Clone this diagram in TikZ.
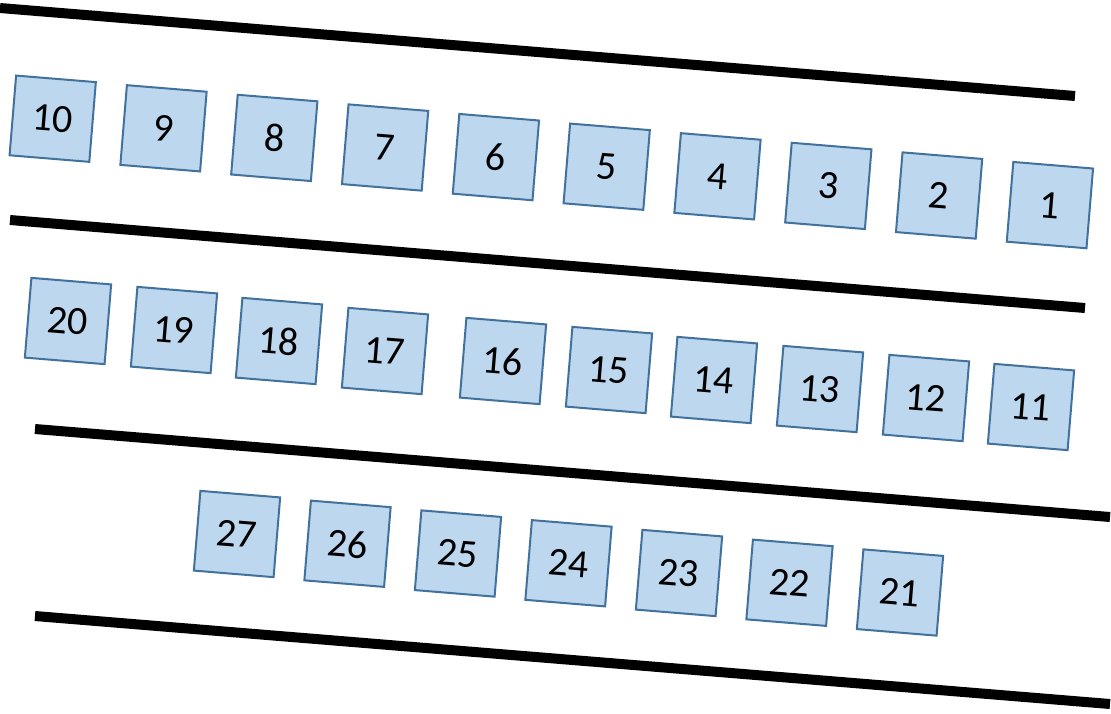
\documentclass[tikz,border=0pt]{standalone}
\usepackage{fontspec}
\setmainfont{Carlito}
\definecolor{seatfill}{HTML}{BDD7EE}
\definecolor{seatdraw}{HTML}{41719C}
\tikzset{
  seat/.style={draw=seatdraw, fill=seatfill, line width=2pt, minimum size=80pt,
    inner sep=0pt, rotate=-4.7, font=\fontsize{40}{42}\selectfont},
  rail/.style={line width=10pt, black}
}
\begin{document}
\begin{tikzpicture}[x=1pt, y=-1pt]

    \useasboundingbox (0,0) rectangle (1111,713);

    % rails between the rows
    \coordinate (r1a) at (0,8);     \coordinate (r1b) at (1075,96);
    \coordinate (r2a) at (10,220);  \coordinate (r2b) at (1085,308);
    \coordinate (r3a) at (35,429);  \coordinate (r3b) at (1110,517);
    \coordinate (r4a) at (35,616);  \coordinate (r4b) at (1110,704);

    \foreach \r in {1,...,4} {
      \draw[rail] (r\r a) -- (r\r b);
    }

    % first row: 10 ... 1
    \foreach \n in {1,...,10} {
      \pgfmathsetmacro{\i}{10-\n}
      \node[seat] (b\n) at (52.7+110.8*\i, 118.7+9.6*\i) {\n};
    }

    % second row: 20 ... 11
    \foreach \n/\x/\y in {20/68/321, 19/174/330, 18/279/341, 17/385/351, 16/503/361,
                          15/609/370, 14/714/380, 13/820/389, 12/926/398, 11/1031/407} {
      \node[seat] (b\n) at (\x,\y) {\n};
    }

    % third row: 27 ... 21
    \foreach \n in {21,...,27} {
      \pgfmathsetmacro{\i}{27-\n}
      \node[seat] (b\n) at (237+110.5*\i, 534+9.75*\i) {\n};
    }

\end{tikzpicture}
\end{document}
